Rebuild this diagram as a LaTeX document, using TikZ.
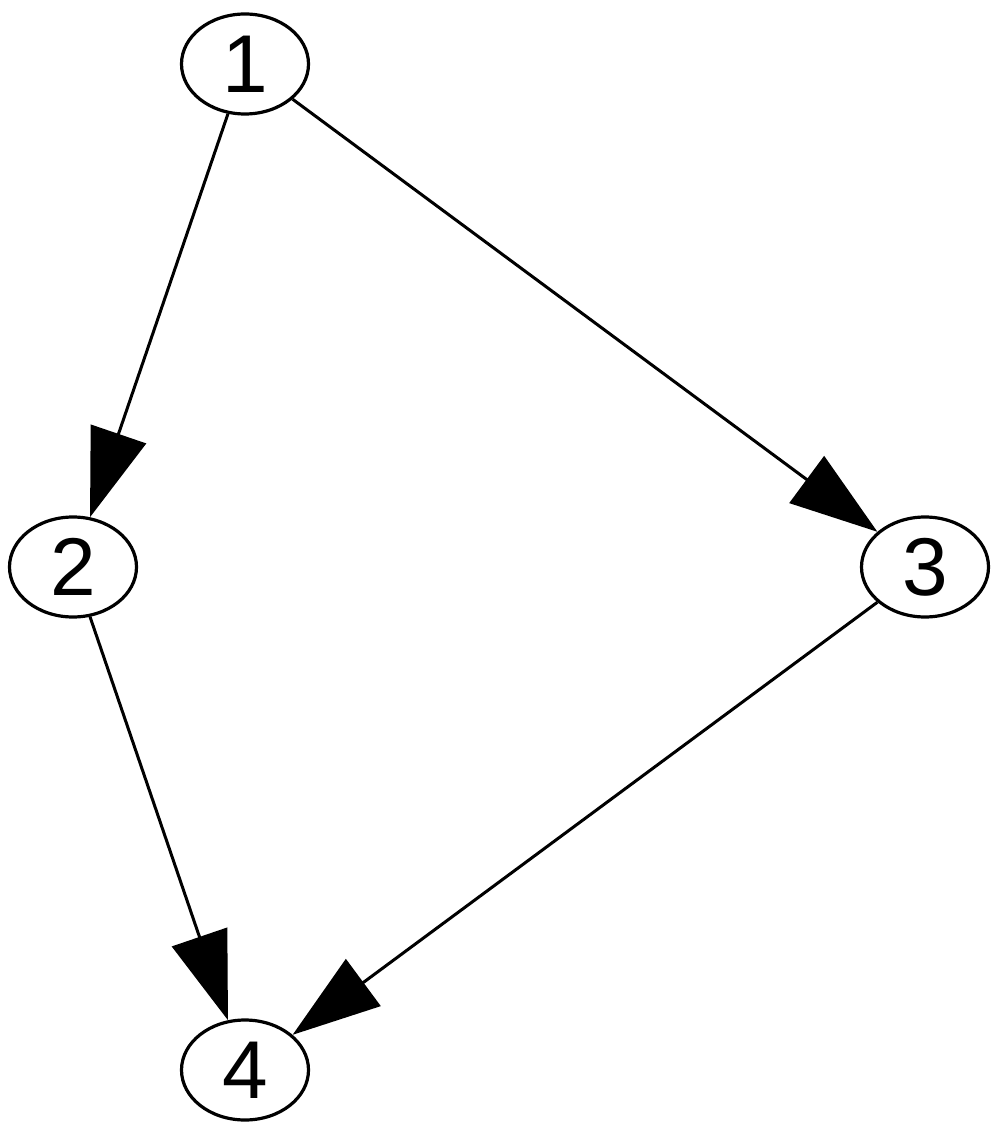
\documentclass[tikz,border=0pt]{standalone}
\usepackage{fontspec}
\setmainfont{Liberation Sans}
\usetikzlibrary{arrows.meta,shapes.geometric}
\begin{document}
\begin{tikzpicture}[x=0.5pt,y=-0.5pt,
  vertex/.style={draw, ellipse, line width=1.6pt, minimum width=63.5pt, minimum height=50pt, inner sep=0pt, font=\fontsize{41pt}{41pt}\selectfont},
  edge/.style={line width=1.5pt, -{Triangle[length=44pt,width=29pt]}}]
\useasboundingbox (0,0) rectangle (1004,1133);
\node[vertex] (n1) at (245,64) {1};
\node[vertex] (n2) at (73,567) {2};
\node[vertex] (n3) at (925,567) {3};
\node[vertex] (n4) at (245,1070) {4};
\draw[edge] (n1) -- (n2);
\draw[edge] (n1) -- (n3);
\draw[edge] (n2) -- (n4);
\draw[edge] (n3) -- (n4);
\end{tikzpicture}
\end{document}
